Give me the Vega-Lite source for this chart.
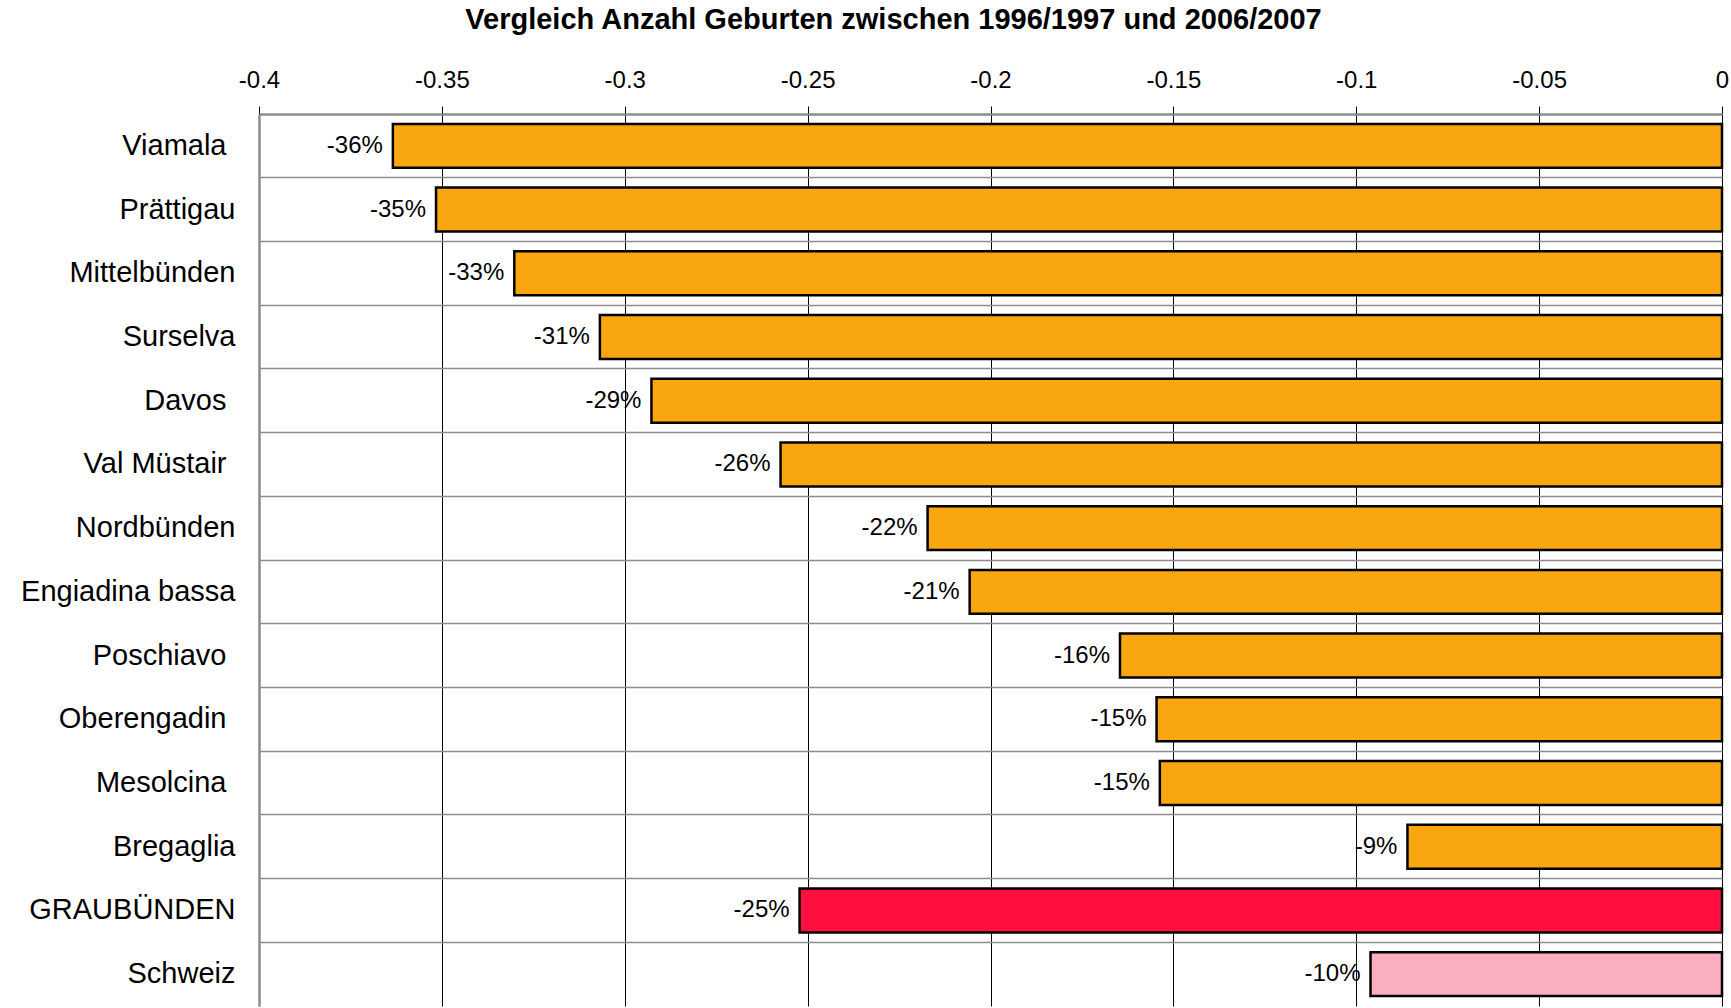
{
  "$schema": "https://vega.github.io/schema/vega-lite/v6.json",
  "autosize": "none",
  "width": 1463,
  "height": 892,
  "padding": {"left": 259, "top": 114, "right": 9, "bottom": 2},
  "background": "white",
  "title": {
    "text": "Vergleich Anzahl Geburten zwischen 1996/1997 und 2006/2007",
    "font": "Liberation Sans",
    "fontSize": 29,
    "fontWeight": "bold",
    "color": "black",
    "anchor": "middle",
    "dx": -97,
    "offset": 33
  },
  "config": {
    "view": {"stroke": null},
    "font": "Liberation Sans"
  },
  "data": {
    "values": [
      {"region": "Viamala", "wert": -0.3634, "label": "-36%", "typ": "Region"},
      {"region": "Prättigau", "wert": -0.3516, "label": "-35%", "typ": "Region"},
      {"region": "Mittelbünden", "wert": -0.3302, "label": "-33%", "typ": "Region"},
      {"region": "Surselva", "wert": -0.3068, "label": "-31%", "typ": "Region"},
      {"region": "Davos", "wert": -0.2927, "label": "-29%", "typ": "Region"},
      {"region": "Val Müstair", "wert": -0.2574, "label": "-26%", "typ": "Region"},
      {"region": "Nordbünden", "wert": -0.2172, "label": "-22%", "typ": "Region"},
      {"region": "Engiadina bassa", "wert": -0.2057, "label": "-21%", "typ": "Region"},
      {"region": "Poschiavo", "wert": -0.1646, "label": "-16%", "typ": "Region"},
      {"region": "Oberengadin", "wert": -0.1546, "label": "-15%", "typ": "Region"},
      {"region": "Mesolcina", "wert": -0.1537, "label": "-15%", "typ": "Region"},
      {"region": "Bregaglia", "wert": -0.0860, "label": "-9%", "typ": "Region"},
      {"region": "GRAUBÜNDEN", "wert": -0.2522, "label": "-25%", "typ": "Kanton"},
      {"region": "Schweiz", "wert": -0.0961, "label": "-10%", "typ": "Schweiz"}
    ]
  },
  "encoding": {
    "y": {
      "field": "region",
      "type": "nominal",
      "sort": null,
      "scale": {"paddingInner": 0, "paddingOuter": 0},
      "axis": {
        "title": null,
        "orient": "left",
        "zindex": 1,
        "domain": true,
        "domainColor": "#8c8c8c",
        "domainWidth": 2.5,
        "ticks": false,
        "labelPadding": {"condition": {"test": "indexof(['Viamala','Davos','Val Müstair','Poschiavo','Oberengadin','Mesolcina'], datum.value) >= 0", "value": 33}, "value": 24},
        "labelFontSize": 29,
        "labelLimit": 400,
        "labelColor": "black",
        "labelFont": "Liberation Sans",
        "grid": true,
        "bandPosition": 0,
        "gridColor": "#8c8c8c",
        "gridWidth": 1.5
      }
    }
  },
  "layer": [
    {
      "mark": {"type": "bar", "height": {"band": 0.69}, "stroke": "black", "strokeWidth": 2.5},
      "encoding": {
        "x": {
          "field": "wert",
          "type": "quantitative",
          "scale": {"domain": [-0.4, 0], "nice": false, "zero": false},
          "axis": {
            "title": null,
            "orient": "top",
            "values": [-0.4, -0.35, -0.3, -0.25, -0.2, -0.15, -0.1, -0.05, 0],
            "labelExpr": "datum.value < 0 ? '-' + format(-datum.value, '') : '0'",
            "labelFontSize": 24,
            "labelColor": "black",
            "labelFont": "Liberation Sans",
            "labelPadding": 14,
            "labelFlush": false,
            "domainColor": "#6e6e6e",
            "domainWidth": 2,
            "tickColor": "black",
            "tickSize": 8,
            "tickWidth": 1,
            "grid": true,
            "gridColor": "black",
            "gridWidth": 1
          }
        },
        "fill": {
          "field": "typ",
          "type": "nominal",
          "scale": {"domain": ["Region", "Kanton", "Schweiz"], "range": ["#FAA611", "#FF0F40", "#FBAEC0"]},
          "legend": null
        }
      }
    },
    {
      "mark": {"type": "text", "align": "right", "baseline": "middle", "dx": -10, "fontSize": 24, "font": "Liberation Sans", "color": "black"},
      "encoding": {
        "x": {"field": "wert", "type": "quantitative"},
        "text": {"field": "label"}
      }
    }
  ]
}
